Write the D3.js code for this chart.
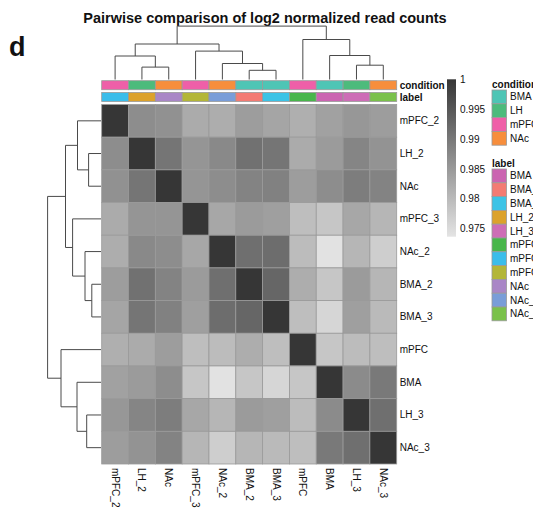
<!DOCTYPE html>
<html>
<head>
<meta charset="utf-8">
<script src="https://cdn.jsdelivr.net/npm/d3@7"></script>
<style>
body { margin: 0; background: #fff; }
text { font-family: "Liberation Sans", Arial, sans-serif; fill: #111; }
</style>
</head>
<body>
<div id="chart"></div>
<script>
// sample order after clustering (same for rows and columns)
var samples = ['mPFC_2', 'LH_2', 'NAc', 'mPFC_3', 'NAc_2', 'BMA_2', 'BMA_3', 'mPFC', 'BMA', 'LH_3', 'NAc_3'];
var conditionOf = ['mPFC', 'LH', 'NAc', 'mPFC', 'NAc', 'BMA', 'BMA', 'mPFC', 'BMA', 'LH', 'NAc'];

var conditionNames = ['BMA', 'LH', 'mPFC', 'NAc'];
var conditionColors = ['#4ec5b5', '#4dbb7c', '#ef5fa8', '#f78e3c'];

var labelNames = ['BMA', 'BMA_2', 'BMA_3', 'LH_2', 'LH_3', 'mPFC', 'mPFC_2', 'mPFC_3', 'NAc', 'NAc_2', 'NAc_3'];
var labelColors = ['#cb64b1', '#f37b73', '#3cc3e6', '#dca22c', '#cd6db6', '#48b64b', '#3bbdea', '#b3b638', '#a986c6', '#799dd8', '#7ac14b'];

// pairwise correlation (rows/cols in sample order)
var corr = [
	[1, .9869, .9862, .9823, .9820, .9844, .9832, .9817, .9838, .9853, .9844],
	[.9869, 1, .9905, .9856, .9875, .9911, .9905, .9823, .9847, .9881, .9859],
	[.9862, .9905, 1, .9856, .9869, .9884, .9887, .9844, .9869, .9893, .9884],
	[.9823, .9856, .9856, 1, .9829, .9847, .9841, .9795, .9783, .9829, .9807],
	[.9820, .9875, .9869, .9829, 1, .9914, .9917, .9798, .9740, .9807, .9771],
	[.9844, .9911, .9884, .9847, .9914, 1, .9927, .9820, .9783, .9847, .9807],
	[.9832, .9905, .9887, .9841, .9917, .9927, 1, .9795, .9758, .9841, .9801],
	[.9817, .9823, .9844, .9795, .9798, .9820, .9795, 1, .9783, .9798, .9795],
	[.9838, .9847, .9869, .9783, .9740, .9783, .9758, .9783, 1, .9872, .9899],
	[.9853, .9881, .9893, .9829, .9807, .9847, .9841, .9798, .9872, 1, .9914],
	[.9844, .9859, .9884, .9807, .9771, .9807, .9801, .9795, .9899, .9914, 1]
];
var minCorr = 0.9737;
var legendTicks = [1, 0.995, 0.99, 0.985, 0.98, 0.975];

// hclust style merges: [a, b, height], 'mN' refers to merge N
var merges = [
	['BMA_2', 'BMA_3', 0.92],
	['LH_2', 'NAc', 1.24],
	['LH_3', 'NAc_3', 1.43],
	['NAc_2', 'm0', 1.60],
	['mPFC_2', 'm1', 2.35],
	['BMA', 'm2', 2.40],
	['mPFC_3', 'm3', 2.84],
	['m4', 'm6', 3.55],
	['mPFC', 'm5', 4.00],
	['m7', 'm8', 5.34]
];

var width = 533, height = 510;
var hmLeft = 101.7, hmRight = 396.7, hmTop = 104.5, hmBottom = 464;
var treeSize = 53.4;

var svg = d3.select('#chart').append('svg')
	.attr('width', width)
	.attr('height', height);

var x = d3.scaleBand().domain(samples).range([hmLeft, hmRight]);
var y = d3.scaleBand().domain(samples).range([hmTop, hmBottom]);
var color = d3.scaleLinear().domain([minCorr, 1]).range(['#e4e4e4', '#363636']);
var condColor = d3.scaleOrdinal().domain(conditionNames).range(conditionColors);
var labColor = d3.scaleOrdinal().domain(labelNames).range(labelColors);
var treeH = d3.scaleLinear().domain([0, merges[merges.length - 1][2]]).range([0, treeSize]);

// title
svg.append('text')
	.attr('x', 265).attr('y', 23)
	.attr('text-anchor', 'middle')
	.style('font-size', '14.5px').style('font-weight', 'bold')
	.text('Pairwise comparison of log2 normalized read counts');

svg.append('text')
	.attr('x', 9).attr('y', 56)
	.style('font-size', '27px').style('font-weight', 'bold')
	.text('d');

// heatmap cells
var cells = [];
corr.forEach(function(row, i) {
	row.forEach(function(v, j) {
		cells.push({r: samples[i], c: samples[j], v: v});
	});
});

svg.append('g').selectAll('rect')
	.data(cells)
	.enter()
	.append('rect')
	.attr('x', function(d) { return x(d.c); })
	.attr('y', function(d) { return y(d.r); })
	.attr('width', x.bandwidth())
	.attr('height', y.bandwidth())
	.attr('fill', function(d) { return color(d.v); })
	.attr('stroke', '#9a9a9a')
	.attr('stroke-width', 0.8);

// annotation bars
var annRows = [
	{name: 'condition', y: 80.7, colorOf: function(s, i) { return condColor(conditionOf[i]); }},
	{name: 'label', y: 92.5, colorOf: function(s, i) { return labColor(s); }}
];
annRows.forEach(function(a) {
	svg.append('g').selectAll('rect')
		.data(samples)
		.enter()
		.append('rect')
		.attr('x', function(d) { return x(d); })
		.attr('y', a.y)
		.attr('width', x.bandwidth())
		.attr('height', 9)
		.attr('fill', a.colorOf)
		.attr('stroke', '#9a9a9a')
		.attr('stroke-width', 0.8);
	svg.append('text')
		.attr('x', hmRight + 3).attr('y', a.y + 4.5)
		.attr('dominant-baseline', 'central')
		.style('font-size', '10px').style('font-weight', 'bold')
		.text(a.name);
});

// row labels
svg.append('g').selectAll('text')
	.data(samples)
	.enter()
	.append('text')
	.attr('x', hmRight + 3)
	.attr('y', function(d) { return y(d) + y.bandwidth() / 2; })
	.attr('dominant-baseline', 'central')
	.style('font-size', '10px')
	.text(function(d) { return d; });

// column labels
svg.append('g').selectAll('text')
	.data(samples)
	.enter()
	.append('text')
	.attr('transform', function(d) {
		return 'translate(' + (x(d) + x.bandwidth() / 2) + ',' + (hmBottom + 4) + ') rotate(90)';
	})
	.attr('dominant-baseline', 'central')
	.style('font-size', '10px')
	.text(function(d) { return d; });

// dendrograms
function nodeInfo(key, band, done) {
	if (key.charAt(0) === 'm' && done[key]) return done[key];
	return {pos: band(key) + band.bandwidth() / 2, h: 0};
}
function treeSegments(band) {
	var done = {};
	var segs = [];
	merges.forEach(function(m, i) {
		var a = nodeInfo(m[0], band, done);
		var b = nodeInfo(m[1], band, done);
		var h = m[2];
		segs.push([a.pos, a.h, a.pos, h], [a.pos, h, b.pos, h], [b.pos, h, b.pos, b.h]);
		done['m' + i] = {pos: (a.pos + b.pos) / 2, h: h};
	});
	return segs;
}

var topBase = 79.5;
svg.append('g').selectAll('line')
	.data(treeSegments(x))
	.enter()
	.append('line')
	.attr('x1', function(d) { return d[0]; })
	.attr('y1', function(d) { return topBase - treeH(d[1]); })
	.attr('x2', function(d) { return d[2]; })
	.attr('y2', function(d) { return topBase - treeH(d[3]); })
	.attr('stroke', '#4a4a4a')
	.attr('stroke-width', 1);

var leftBase = 101;
svg.append('g').selectAll('line')
	.data(treeSegments(y))
	.enter()
	.append('line')
	.attr('y1', function(d) { return d[0]; })
	.attr('x1', function(d) { return leftBase - treeH(d[1]); })
	.attr('y2', function(d) { return d[2]; })
	.attr('x2', function(d) { return leftBase - treeH(d[3]); })
	.attr('stroke', '#4a4a4a')
	.attr('stroke-width', 1);

// colour legend
var legY = d3.scaleLinear().domain([minCorr, 1]).range([236.7, 79.3]);
var grad = svg.append('defs').append('linearGradient')
	.attr('id', 'corrGrad')
	.attr('x1', 0).attr('y1', 1).attr('x2', 0).attr('y2', 0);
grad.append('stop').attr('offset', '0%').attr('stop-color', color(minCorr));
grad.append('stop').attr('offset', '100%').attr('stop-color', color(1));

svg.append('rect')
	.attr('x', 447).attr('y', legY(1))
	.attr('width', 9).attr('height', legY(minCorr) - legY(1))
	.attr('fill', 'url(#corrGrad)');

svg.append('g').selectAll('text')
	.data(legendTicks)
	.enter()
	.append('text')
	.attr('x', 460)
	.attr('y', function(d) { return legY(d); })
	.attr('dominant-baseline', 'central')
	.style('font-size', '10px')
	.text(function(d) { return d; });

// annotation legends
function annLegend(title, names, colors, top) {
	var g = svg.append('g');
	g.append('text')
		.attr('x', 492).attr('y', top - 6)
		.attr('dominant-baseline', 'central')
		.style('font-size', '10px').style('font-weight', 'bold')
		.text(title);
	g.selectAll('rect')
		.data(names)
		.enter()
		.append('rect')
		.attr('x', 492)
		.attr('y', function(d, i) { return top + i * 13.8; })
		.attr('width', 14.5)
		.attr('height', 13.8)
		.attr('fill', function(d, i) { return colors[i]; })
		.attr('stroke', '#9a9a9a')
		.attr('stroke-width', 0.8);
	g.selectAll('text.item')
		.data(names)
		.enter()
		.append('text')
		.attr('class', 'item')
		.attr('x', 510)
		.attr('y', function(d, i) { return top + i * 13.8 + 6.9; })
		.attr('dominant-baseline', 'central')
		.style('font-size', '10px')
		.text(function(d) { return d; });
}
annLegend('condition', conditionNames, conditionColors, 90);
annLegend('label', labelNames, labelColors, 169);
</script>
</body>
</html>
